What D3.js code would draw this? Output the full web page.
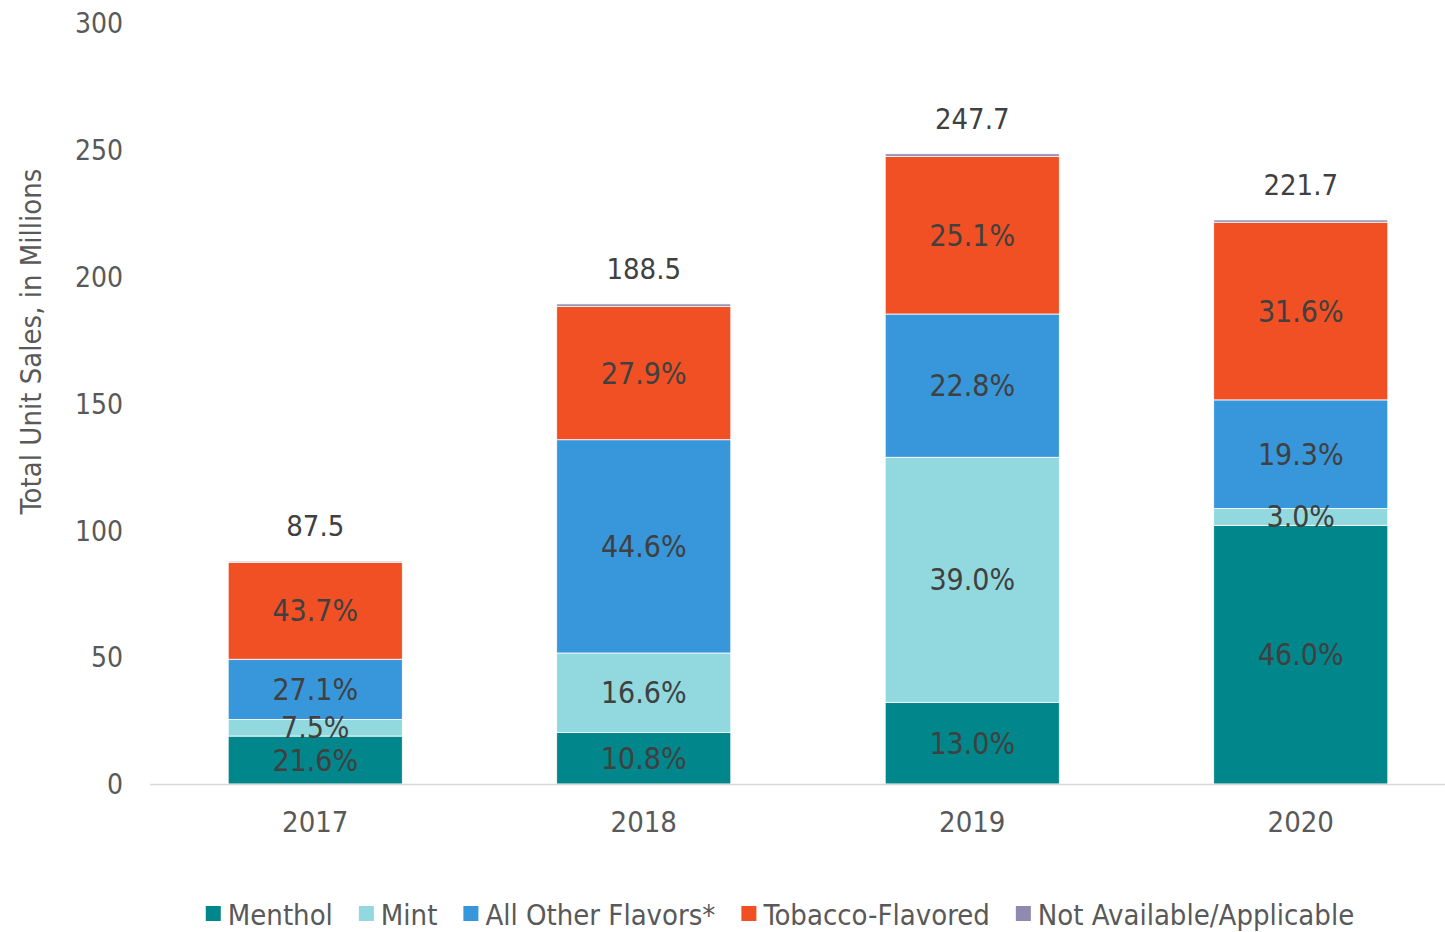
<!DOCTYPE html>
<html>
<head>
<meta charset="utf-8">
<script src="https://cdn.jsdelivr.net/npm/d3@7"></script>
<style>
  body { margin: 0; background: #fff; }
  svg text { font-family: "DejaVu Sans Condensed", "DejaVu Sans", sans-serif; }
</style>
</head>
<body>
<div id="graph"></div>
<script>
// chart data
const years = ["2017", "2018", "2019", "2020"];
const totals = [87.5, 188.5, 247.7, 221.7];
const seriesNames = ["Menthol", "Mint", "All Other Flavors*", "Tobacco-Flavored", "Not Available/Applicable"];
const mentholPct = [21.6, 10.8, 13.0, 46.0];
const mintPct = [7.5, 16.6, 39.0, 3.0];
const otherPct = [27.1, 44.6, 22.8, 19.3];
const tobaccoPct = [43.7, 27.9, 25.1, 31.6];
const naPct = [0.5, 0.5, 0.4, 0.4];
const yTicks = [0, 50, 100, 150, 200, 250, 300];

const colors = ["#00868b", "#91d9df", "#3896da", "#f05024", "#8f8aaf"];

const width = 1445, height = 932;
const padding = {left: 151, right: -20, top: 23, bottom: 148};

let graph = d3.select("div#graph")
  .append("svg")
  .attr("width", width)
  .attr("height", height);

// build rows for the stack
let pctLists = [mentholPct, mintPct, otherPct, tobaccoPct, naPct];
let rows = years.map((y, i) => {
  let r = {year: y, total: totals[i]};
  seriesNames.forEach((s, j) => { r[s] = totals[i] * pctLists[j][i] / 100; r[s + "_pct"] = pctLists[j][i]; });
  return r;
});

let stack = d3.stack().keys(seriesNames)(rows);

let xScale = d3.scaleBand()
  .domain(years)
  .range([padding.left, width - padding.right])
  .paddingInner(0.47)
  .paddingOuter(0.235);

let yScale = d3.scaleLinear()
  .domain([0, 300])
  .range([height - padding.bottom, padding.top]);

// y axis: labels only
let yAxis = d3.axisLeft(yScale).tickValues(yTicks).tickSize(0).tickPadding(0);
let yg = graph.append("g")
  .attr("class", "y axis")
  .attr("transform", `translate(123, 0)`)
  .call(yAxis);
yg.select(".domain").remove();
yg.selectAll("text")
  .attr("fill", "#595959")
  .style("font-size", "28px")
  .attr("dy", "0.35em");

// bars
let groups = graph.selectAll("g.series")
  .data(stack)
  .enter()
  .append("g")
  .attr("class", "series")
  .attr("fill", (d, i) => colors[i]);

groups.selectAll("rect")
  .data(d => d)
  .enter()
  .append("rect")
  .attr("x", d => xScale(d.data.year))
  .attr("y", d => yScale(d[1]))
  .attr("width", xScale.bandwidth())
  .attr("height", d => yScale(d[0]) - yScale(d[1]))
  .attr("stroke", "#fff")
  .attr("stroke-width", 0.8);

// x axis line
graph.append("line")
  .attr("x1", 150).attr("x2", width)
  .attr("y1", yScale(0) + 0.5).attr("y2", yScale(0) + 0.5)
  .attr("stroke", "#d9d9d9")
  .attr("stroke-width", 1.5);

// x labels
graph.selectAll("text.xlabel")
  .data(years)
  .enter()
  .append("text")
  .attr("class", "xlabel")
  .attr("x", d => xScale(d) + xScale.bandwidth() / 2)
  .attr("y", yScale(0) + 48)
  .attr("text-anchor", "middle")
  .attr("fill", "#595959")
  .style("font-size", "29px")
  .text(d => d);

// percentage labels (skip N/A)
stack.slice(0, 4).forEach((s, j) => {
  graph.selectAll("text.pct" + j)
    .data(s)
    .enter()
    .append("text")
    .attr("class", "pct" + j)
    .attr("x", d => xScale(d.data.year) + xScale.bandwidth() / 2)
    .attr("y", d => yScale((d[0] + d[1]) / 2))
    .attr("dy", "0.35em")
    .attr("text-anchor", "middle")
    .attr("fill", "#404040")
    .style("font-size", "30px")
    .text(d => d.data[seriesNames[j] + "_pct"].toFixed(1) + "%");
});

// totals above bars
graph.selectAll("text.total")
  .data(rows)
  .enter()
  .append("text")
  .attr("class", "total")
  .attr("x", d => xScale(d.year) + xScale.bandwidth() / 2)
  .attr("y", (d, i) => yScale(stack[4][i][1]) - 25)
  .attr("text-anchor", "middle")
  .attr("fill", "#404040")
  .style("font-size", "29px")
  .text(d => d.total.toFixed(1));

// y axis title
graph.append("text")
  .attr("transform", `translate(41, ${(yScale(0) + yScale(300)) / 2 - 62}) rotate(-90)`)
  .attr("text-anchor", "middle")
  .attr("fill", "#595959")
  .style("font-size", "29px")
  .text("Total Unit Sales, in Millions");

// legend
let legend = graph.append("g").attr("class", "legend");
let lx = 0;
seriesNames.forEach((s, i) => {
  let g = legend.append("g").attr("transform", `translate(${lx}, 0)`);
  g.append("rect")
    .attr("x", 0).attr("y", -19)
    .attr("width", 15).attr("height", 15)
    .attr("fill", colors[i]);
  let t = g.append("text")
    .attr("x", 22)
    .attr("y", 0)
    .attr("fill", "#595959")
    .style("font-size", "29px")
    .text(s);
  lx += 22 + t.node().getComputedTextLength() + 26;
});
lx -= 26;
legend.attr("transform", `translate(${780 - lx / 2}, 925)`);
</script>
</body>
</html>
